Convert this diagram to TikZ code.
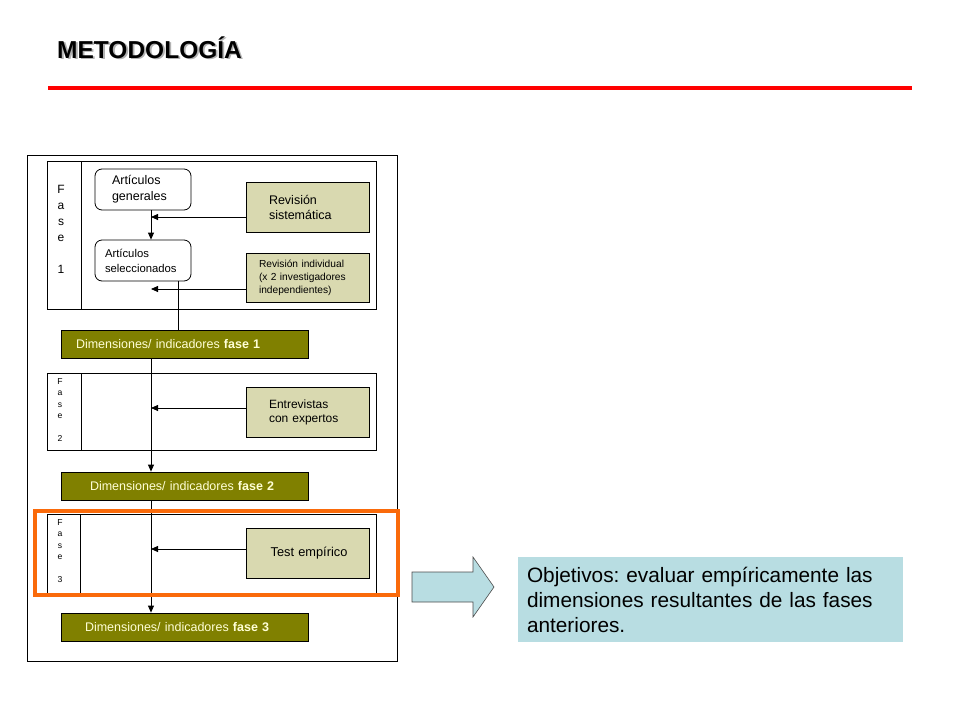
\documentclass[tikz,border=0pt]{standalone}
\usepackage{fontspec}
\setmainfont{Liberation Sans}
\usetikzlibrary{arrows.meta}
\definecolor{palekhaki}{RGB}{217,217,176}
\definecolor{olivedark}{RGB}{128,128,0}
\definecolor{paletext}{RGB}{255,255,214}
\definecolor{skyblue}{RGB}{184,221,226}
\definecolor{orangeframe}{RGB}{250,106,10}
\tikzset{
	thinline/.style={draw=black, line width=0.8pt},
	lightbox/.style={thinline, fill=palekhaki, minimum width=123pt, minimum height=50pt, inner ysep=0pt, align=left},
	roundbox/.style={thinline, rounded corners=7pt, fill=white, minimum width=96pt, minimum height=41pt, inner ysep=0pt, align=left},
	dimbox/.style={thinline, fill=olivedark, text=paletext, minimum height=28pt, text width=247pt, inner xsep=0pt, inner ysep=0pt, align=left, font=\fontsize{12.5}{15}\selectfont},
	faselab/.style={align=center, inner sep=0pt},
	flow/.style={thinline, -{Triangle[length=7pt,width=6pt]}},
}
\begin{document}
\frenchspacing
\begin{tikzpicture}[x=1pt,y=-1pt]
				%%%%% START %%%%%
				\useasboundingbox (0,0) rectangle (960,720);
				
				% title
				\node[anchor=base west, inner sep=0pt, text=black!30, font=\fontsize{24.5}{28}\bfseries] (titleshadow) at (58.8,59.8) {METODOLOGÍA};
				\node[anchor=base west, inner sep=0pt, font=\fontsize{24.5}{28}\bfseries] (title) at (57,58) {METODOLOGÍA};
				\draw[red, line width=4pt] (48,88) -- (912,88);
				
				% frames
				\draw[thinline] (27,155) rectangle (397,661);
				\draw[thinline] (47,161) rectangle (376,309);
				\draw[thinline] (81,161) -- (81,309);
				\draw[thinline] (47,373) rectangle (376,450);
				\draw[thinline] (81,373) -- (81,450);
				\draw[thinline] (47,514) rectangle (376,593);
				\draw[thinline] (80,514) -- (80,593);
				
				\node[faselab, font=\fontsize{12}{16}\selectfont] (fase1) at (61,229) {F\\a\\s\\e\\ \\1};
				\node[faselab, font=\fontsize{8.6}{11.4}\selectfont] (fase2) at (60,410) {F\\a\\s\\e\\ \\2};
				\node[faselab, font=\fontsize{8.6}{11.4}\selectfont] (fase3) at (60,551) {F\\a\\s\\e\\ \\3};
				
				% fase 1
				\node[roundbox, inner xsep=17pt, text width=62pt, font=\fontsize{12.5}{16}\selectfont] (gen) at (143,189.5) {Artículos\\generales};
				\node[roundbox, inner xsep=10pt, text width=76pt, font=\fontsize{11.3}{15}\selectfont] (sel) at (143,260.5) {Artículos\\seleccionados};
				\node[lightbox, inner xsep=23pt, text width=77pt, font=\fontsize{12.5}{15}\selectfont] (revsis) at (307.5,207) {Revisión\\sistemática};
				\node[lightbox, inner xsep=13pt, text width=97pt, minimum height=49pt, font=\fontsize{10.2}{13}\selectfont] (revind) at (307.5,277.5) {Revisión individual\\(x 2 investigadores\\independientes)};
				
				\coordinate (axis) at (151,0);
				\coordinate (drop) at (178,0);
				\draw[flow] (gen.south -| axis) -- (sel.north -| axis);
				\draw[flow] (revsis.west |- 0,217) -- (axis |- 0,217);
				\draw[flow] (revind.west |- 0,289) -- (axis |- 0,289);
				
				\node[dimbox] (dim1) at (184.5,344.5) {\hspace*{15pt}Dimensiones/ indicadores \textbf{fase 1}};
				\draw[thinline] (sel.south -| drop) -- (dim1.north -| drop);
				
				% fase 2
				\node[lightbox, inner xsep=23pt, text width=77pt, font=\fontsize{12}{14}\selectfont] (entrev) at (307.5,412) {Entrevistas\\con expertos};
				\node[dimbox] (dim2) at (184.5,486) {\hspace*{29pt}Dimensiones/ indicadores \textbf{fase 2}};
				\draw[flow] (dim1.south -| axis) -- (dim2.north -| axis);
				\draw[flow] (entrev.west |- 0,408) -- (axis |- 0,408);
				
				% fase 3
				\node[lightbox, inner xsep=0pt, text width=123pt, align=center, font=\fontsize{12.8}{15}\selectfont] (test) at (307.5,553) {\hspace*{3pt}Test empírico};
				\node[dimbox] (dim3) at (184.5,627) {\hspace*{24pt}Dimensiones/ indicadores \textbf{fase 3}};
				\draw[flow] (dim2.south -| axis) -- (dim3.north -| axis);
				\draw[flow] (test.west |- 0,549) -- (axis |- 0,549);
				
				\draw[orangeframe, line width=4pt] (35,511) rectangle (398,595);
				
				% objetivos
				\draw[draw=black!70, line width=0.6pt, fill=skyblue] (412,572) -- (473,572) -- (473,557) -- (494,587) -- (473,617) -- (473,602) -- (412,602) -- cycle;
				\node[fill=skyblue, minimum width=385pt, minimum height=85pt, inner xsep=9pt, inner ysep=0pt, text width=367pt, align=left, font=\fontsize{20.8}{25}\selectfont] (obj) at (710.5,599.5) {Objetivos: evaluar empíricamente las\\dimensiones resultantes de las fases\\anteriores.};
				%%%%% END %%%%%
\end{tikzpicture}
\end{document}
